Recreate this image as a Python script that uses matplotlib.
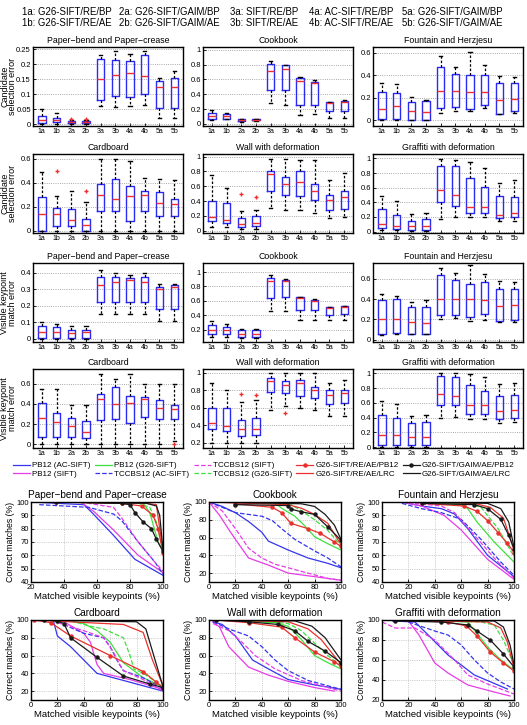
import numpy as np
import matplotlib
matplotlib.use("Agg")
import matplotlib.pyplot as plt
from matplotlib.lines import Line2D

plt.rcParams['font.family'] = ['Liberation Sans', 'DejaVu Sans']

W, H = 527, 725

# ---------------- box plot data: rows are whislo, q1, median, q3, whishi ----------------
box_labels = ["1a", "1b", "2a", "2b", "3a", "3b", "4a", "4b", "5a", "5b"]

paper_cand = [
    [0.000, 0.000, 0.000, 0.000, 0.062, 0.058, 0.060, 0.065, 0.020, 0.020],
    [0.005, 0.006, 0.003, 0.003, 0.081, 0.093, 0.090, 0.100, 0.055, 0.053],
    [0.015, 0.014, 0.007, 0.007, 0.152, 0.165, 0.170, 0.160, 0.123, 0.125],
    [0.027, 0.022, 0.010, 0.010, 0.217, 0.213, 0.210, 0.232, 0.143, 0.153],
    [0.050, 0.038, 0.014, 0.014, 0.230, 0.245, 0.235, 0.243, 0.155, 0.178],
]
paper_cand_fliers = [[], [], [0.017], [0.017], [], [], [], [], [], []]

cook_cand = [
    [0.05, 0.06, 0.03, 0.035, 0.28, 0.26, 0.12, 0.135, 0.08, 0.08],
    [0.07, 0.07, 0.04, 0.045, 0.46, 0.46, 0.26, 0.26, 0.17, 0.17],
    [0.11, 0.10, 0.05, 0.055, 0.72, 0.74, 0.585, 0.55, 0.28, 0.30],
    [0.15, 0.13, 0.06, 0.065, 0.81, 0.79, 0.62, 0.56, 0.29, 0.31],
    [0.19, 0.14, 0.065, 0.07, 0.855, 0.80, 0.63, 0.59, 0.29, 0.32],
]
cook_cand_fliers = [[] for _ in range(10)]

fount_cand = [
    [0.00, 0.00, 0.00, 0.00, 0.065, 0.08, 0.08, 0.11, 0.06, 0.065],
    [0.01, 0.01, 0.005, 0.005, 0.11, 0.12, 0.10, 0.14, 0.06, 0.08],
    [0.10, 0.13, 0.08, 0.07, 0.26, 0.26, 0.25, 0.25, 0.18, 0.19],
    [0.25, 0.24, 0.16, 0.17, 0.47, 0.41, 0.40, 0.40, 0.33, 0.33],
    [0.33, 0.32, 0.21, 0.18, 0.57, 0.47, 0.61, 0.49, 0.39, 0.38],
]
fount_cand_fliers = [[] for _ in range(10)]

card_cand = [
    [0.00, 0.00, 0.00, 0.00, 0.00, 0.00, 0.00, 0.00, 0.00, 0.00],
    [0.00, 0.04, 0.04, 0.00, 0.16, 0.16, 0.08, 0.16, 0.12, 0.12],
    [0.14, 0.14, 0.09, 0.05, 0.30, 0.265, 0.29, 0.30, 0.23, 0.22],
    [0.28, 0.19, 0.18, 0.10, 0.39, 0.43, 0.37, 0.33, 0.32, 0.26],
    [0.49, 0.29, 0.33, 0.24, 0.60, 0.60, 0.58, 0.44, 0.43, 0.42],
]
card_cand_fliers = [[], [0.50], [], [0.33], [], [], [], [], [], []]

wall_cand = [
    [0.05, 0.05, 0.03, 0.03, 0.31, 0.28, 0.28, 0.24, 0.17, 0.18],
    [0.13, 0.10, 0.05, 0.06, 0.53, 0.48, 0.47, 0.41, 0.28, 0.30],
    [0.19, 0.15, 0.094, 0.11, 0.77, 0.63, 0.655, 0.54, 0.42, 0.45],
    [0.40, 0.38, 0.17, 0.20, 0.81, 0.73, 0.81, 0.63, 0.48, 0.53],
    [0.75, 0.57, 0.26, 0.28, 0.97, 0.97, 0.955, 0.955, 0.69, 0.78],
]
wall_cand_fliers = [[], [], [0.50], [0.46], [], [], [], [], [], []]

graf_cand = [
    [0.02, 0.02, 0.01, 0.01, 0.17, 0.195, 0.195, 0.195, 0.14, 0.14],
    [0.045, 0.035, 0.02, 0.025, 0.40, 0.355, 0.26, 0.26, 0.19, 0.195],
    [0.10, 0.08, 0.07, 0.07, 0.57, 0.50, 0.34, 0.34, 0.23, 0.25],
    [0.31, 0.23, 0.145, 0.17, 0.89, 0.89, 0.73, 0.61, 0.48, 0.47],
    [0.48, 0.42, 0.24, 0.26, 0.99, 0.98, 0.955, 0.87, 0.66, 0.70],
]
graf_cand_fliers = [[] for _ in range(10)]

paper_vis = [
    [0.000, 0.000, 0.000, 0.000, 0.15, 0.15, 0.15, 0.15, 0.105, 0.105],
    [0.005, 0.005, 0.005, 0.005, 0.22, 0.225, 0.22, 0.225, 0.18, 0.18],
    [0.040, 0.040, 0.035, 0.040, 0.325, 0.345, 0.355, 0.345, 0.305, 0.315],
    [0.075, 0.070, 0.055, 0.055, 0.375, 0.375, 0.37, 0.375, 0.315, 0.325],
    [0.100, 0.090, 0.075, 0.075, 0.42, 0.40, 0.385, 0.40, 0.335, 0.335],
]
paper_vis_fliers = [[] for _ in range(10)]

cook_vis = [
    [0.10, 0.10, 0.09, 0.09, 0.46, 0.46, 0.34, 0.34, 0.33, 0.33],
    [0.135, 0.135, 0.105, 0.105, 0.645, 0.65, 0.48, 0.475, 0.41, 0.42],
    [0.19, 0.19, 0.135, 0.145, 0.87, 0.87, 0.645, 0.605, 0.505, 0.52],
    [0.27, 0.235, 0.19, 0.19, 0.92, 0.895, 0.65, 0.615, 0.515, 0.525],
    [0.315, 0.28, 0.21, 0.21, 0.955, 0.91, 0.66, 0.63, 0.52, 0.53],
]
cook_vis_fliers = [[] for _ in range(10)]

fount_vis = [
    [0.05, 0.06, 0.06, 0.06, 0.20, 0.215, 0.185, 0.19, 0.175, 0.175],
    [0.06, 0.066, 0.06, 0.06, 0.24, 0.24, 0.225, 0.25, 0.18, 0.19],
    [0.205, 0.205, 0.175, 0.16, 0.40, 0.40, 0.405, 0.39, 0.33, 0.34],
    [0.39, 0.40, 0.32, 0.32, 0.64, 0.59, 0.555, 0.57, 0.505, 0.505],
    [0.45, 0.43, 0.37, 0.39, 0.71, 0.66, 0.735, 0.65, 0.58, 0.565],
]
fount_vis_fliers = [[] for _ in range(10)]

card_vis = [
    [0.00, 0.00, 0.00, 0.00, 0.00, 0.00, 0.00, 0.00, 0.00, 0.03],
    [0.07, 0.07, 0.07, 0.06, 0.24, 0.25, 0.21, 0.275, 0.25, 0.25],
    [0.26, 0.22, 0.18, 0.125, 0.445, 0.40, 0.41, 0.445, 0.355, 0.35],
    [0.41, 0.31, 0.265, 0.23, 0.50, 0.57, 0.48, 0.47, 0.435, 0.39],
    [0.55, 0.55, 0.39, 0.39, 0.70, 0.65, 0.70, 0.60, 0.60, 0.60],
]
card_vis_fliers = [[], [], [], [], [], [], [], [], [], [0.005]]

wall_vis = [
    [0.20, 0.20, 0.20, 0.20, 0.575, 0.62, 0.60, 0.575, 0.505, 0.505],
    [0.355, 0.33, 0.27, 0.29, 0.78, 0.77, 0.74, 0.715, 0.64, 0.65],
    [0.42, 0.385, 0.355, 0.36, 0.905, 0.867, 0.88, 0.81, 0.75, 0.765],
    [0.60, 0.60, 0.46, 0.48, 0.94, 0.905, 0.92, 0.84, 0.80, 0.80],
    [0.89, 0.80, 0.665, 0.685, 1.00, 1.00, 1.00, 1.00, 0.89, 0.92],
]
wall_vis_fliers = [[], [], [0.76], [0.75], [], [0.54], [], [], [], []]

graf_vis = [
    [0.00, 0.00, 0.00, 0.00, 0.39, 0.41, 0.38, 0.38, 0.325, 0.345],
    [0.03, 0.03, 0.03, 0.03, 0.575, 0.565, 0.455, 0.455, 0.38, 0.40],
    [0.17, 0.16, 0.14, 0.14, 0.72, 0.69, 0.565, 0.565, 0.49, 0.51],
    [0.43, 0.39, 0.325, 0.345, 0.96, 0.95, 0.84, 0.76, 0.69, 0.70],
    [0.62, 0.59, 0.42, 0.44, 1.00, 1.00, 0.99, 0.95, 0.85, 0.865],
]
graf_vis_fliers = [[] for _ in range(10)]

box_titles = ["Paper\u2212bend and Paper\u2212crease", "Cookbook", "Fountain and Herzjesu",
              "Cardboard", "Wall with deformation", "Graffiti with deformation"]

# ---------------- curve data: (matched visible keypoints %, correct matches %) ----------------
series = ["PB12 (AC-SIFT)", "PB12 (SIFT)", "PB12 (G26-SIFT)",
          "TCCBS12 (AC-SIFT)", "TCCBS12 (SIFT)", "TCCBS12 (G26-SIFT)",
          "G26-SIFT/RE/AE/PB12", "G26-SIFT/RE/AE/LRC",
          "G26-SIFT/GAIM/AE/PB12", "G26-SIFT/GAIM/AE/LRC"]

paper_curves = {
    "PB12 (AC-SIFT)": ([20, 52, 57, 70, 83, 100], [100, 98, 92, 75, 57, 45]),
    "PB12 (SIFT)": ([50, 58, 70, 85, 100], [100, 93, 79, 60, 47]),
    "PB12 (G26-SIFT)": ([30, 88, 92, 97, 100], [100, 99, 92, 70, 63]),
    "TCCBS12 (AC-SIFT)": ([25, 40, 55, 70, 75, 85, 95, 100], [98, 97, 96, 91, 86, 70, 55, 46]),
    "TCCBS12 (SIFT)": ([50, 60, 70, 75, 85, 95, 100], [100, 98, 96, 88, 70, 55, 48]),
    "TCCBS12 (G26-SIFT)": ([40, 85, 92, 96, 100], [100, 99, 96, 85, 64]),
    "G26-SIFT/RE/AE/PB12": ([35, 75, 87, 94, 97, 100], [100, 99, 97, 90, 80, 62]),
    "G26-SIFT/RE/AE/LRC": ([40, 90, 96, 98, 100], [100, 99, 98, 80, 63]),
    "G26-SIFT/GAIM/AE/PB12": ([35, 75, 80, 83, 88, 93, 96, 100], [100, 99, 98, 92, 85, 80, 72, 63]),
    "G26-SIFT/GAIM/AE/LRC": ([35, 90, 96, 98, 100], [100, 99, 97, 90, 64]),
}
cook_curves = {
    "PB12 (AC-SIFT)": ([0, 10, 20, 30, 40, 45, 60, 75, 90, 100], [100, 95, 88, 78, 66, 56, 46, 37, 31, 26]),
    "PB12 (SIFT)": ([0, 8, 15, 20, 30, 45, 60, 75, 90, 100], [100, 85, 69, 58, 37, 29, 20, 17, 14, 12]),
    "PB12 (G26-SIFT)": ([0, 50, 55, 65, 72, 80, 90, 100], [100, 99, 93, 84, 74, 61, 53, 46]),
    "TCCBS12 (AC-SIFT)": ([0, 10, 20, 30, 40, 48, 55, 65, 80, 90, 100], [100, 94, 88, 86, 84, 79, 70, 58, 45, 37, 27]),
    "TCCBS12 (SIFT)": ([0, 10, 20, 30, 40, 50, 70, 90, 100], [100, 90, 70, 48, 37, 30, 22, 14, 12]),
    "TCCBS12 (G26-SIFT)": ([0, 60, 70, 80, 90, 100], [100, 99, 90, 80, 68, 51]),
    "G26-SIFT/RE/AE/PB12": ([20, 48, 55, 62, 75, 84, 95, 100], [98, 94, 88, 76, 70, 65, 55, 50]),
    "G26-SIFT/RE/AE/LRC": ([0, 60, 70, 80, 90, 100], [100, 97, 93, 86, 76, 52]),
    "G26-SIFT/GAIM/AE/PB12": ([20, 60, 62, 70, 80, 90, 100], [97, 96, 92, 89, 86, 72, 57]),
    "G26-SIFT/GAIM/AE/LRC": ([0, 70, 80, 88, 95, 100], [100, 98, 95, 86, 74, 58]),
}
fount_curves = {
    "PB12 (AC-SIFT)": ([15, 30, 45, 55, 65, 80, 100], [100, 97, 95, 91, 80, 60, 44]),
    "PB12 (SIFT)": ([15, 30, 47, 60, 80, 100], [100, 97, 90, 79, 57, 42]),
    "PB12 (G26-SIFT)": ([30, 60, 65, 72, 85, 100], [100, 98, 95, 85, 70, 55]),
    "TCCBS12 (AC-SIFT)": ([15, 30, 45, 60, 75, 90, 100], [99, 95, 92, 87, 72, 55, 45]),
    "TCCBS12 (SIFT)": ([15, 45, 55, 70, 85, 100], [100, 97, 92, 75, 58, 43]),
    "TCCBS12 (G26-SIFT)": ([30, 65, 75, 88, 100], [100, 99, 96, 80, 59]),
    "G26-SIFT/RE/AE/PB12": ([30, 62, 72, 80, 88, 95, 100], [99, 97, 93, 86, 77, 69, 62]),
    "G26-SIFT/RE/AE/LRC": ([30, 70, 82, 92, 100], [100, 99, 96, 88, 64]),
    "G26-SIFT/GAIM/AE/PB12": ([30, 70, 80, 90, 96, 100], [99, 98, 95, 87, 75, 65]),
    "G26-SIFT/GAIM/AE/LRC": ([30, 80, 90, 96, 100], [100, 99, 95, 85, 66]),
}
card_curves = {
    "PB12 (AC-SIFT)": ([17, 20, 30, 40, 50, 75, 100], [99, 82, 70, 55, 40, 30, 20]),
    "PB12 (SIFT)": ([25, 40, 45, 50, 55, 75, 100], [98, 85, 75, 50, 40, 33, 22]),
    "PB12 (G26-SIFT)": ([30, 40, 50, 60, 70, 85, 100], [99, 96, 88, 75, 52, 35, 25]),
    "TCCBS12 (AC-SIFT)": ([20, 40, 55, 60, 65, 70, 85, 100], [98, 85, 80, 70, 55, 43, 35, 23]),
    "TCCBS12 (SIFT)": ([20, 40, 55, 62, 67, 70, 85, 100], [97, 88, 80, 65, 50, 43, 33, 20]),
    "TCCBS12 (G26-SIFT)": ([30, 45, 55, 70, 75, 78, 85, 100], [99, 93, 90, 80, 60, 45, 40, 25]),
    "G26-SIFT/RE/AE/PB12": ([2, 15, 30, 60, 85, 95, 100], [100, 97, 82, 60, 42, 30, 24]),
    "G26-SIFT/RE/AE/LRC": ([2, 70, 85, 92, 100], [100, 95, 86, 55, 26]),
    "G26-SIFT/GAIM/AE/PB12": ([10, 20, 25, 30, 50, 70, 90, 100], [100, 99, 96, 80, 58, 37, 28, 24]),
    "G26-SIFT/GAIM/AE/LRC": ([10, 80, 87, 93, 100], [100, 98, 90, 60, 25]),
}
wall_curves = {
    "PB12 (AC-SIFT)": ([3, 10, 20, 33, 45, 60, 80, 100], [98, 95, 82, 55, 45, 33, 27, 22]),
    "PB12 (SIFT)": ([3, 8, 15, 30, 45, 60, 80, 95], [98, 92, 70, 47, 38, 31, 24, 20]),
    "PB12 (G26-SIFT)": ([3, 50, 60, 70, 80, 90, 100], [100, 97, 93, 78, 60, 52, 45]),
    "TCCBS12 (AC-SIFT)": ([3, 15, 30, 40, 50, 60, 75, 90, 100], [98, 90, 82, 70, 55, 43, 32, 26, 22]),
    "TCCBS12 (SIFT)": ([3, 15, 25, 35, 50, 70, 90, 100], [96, 88, 75, 60, 45, 32, 24, 20]),
    "TCCBS12 (G26-SIFT)": ([3, 40, 60, 70, 80, 90, 100], [100, 99, 96, 88, 74, 60, 48]),
    "G26-SIFT/RE/AE/PB12": ([5, 30, 55, 65, 80, 95, 100], [100, 97, 92, 80, 64, 53, 48]),
    "G26-SIFT/RE/AE/LRC": ([5, 60, 75, 85, 100], [100, 98, 90, 78, 50]),
    "G26-SIFT/GAIM/AE/PB12": ([5, 30, 52, 65, 75, 88, 100], [100, 98, 95, 88, 76, 65, 52]),
    "G26-SIFT/GAIM/AE/LRC": ([5, 65, 78, 88, 100], [100, 99, 93, 80, 55]),
}
graf_curves = {
    "PB12 (AC-SIFT)": ([8, 25, 35, 50, 70, 95], [99, 98, 85, 65, 45, 31]),
    "PB12 (SIFT)": ([20, 28, 40, 50, 65, 85, 97], [99, 85, 57, 47, 35, 28, 24]),
    "PB12 (G26-SIFT)": ([30, 65, 70, 80, 90, 100], [100, 98, 90, 73, 60, 50]),
    "TCCBS12 (AC-SIFT)": ([20, 40, 50, 60, 70, 80, 90, 100], [98, 89, 85, 75, 60, 47, 38, 31]),
    "TCCBS12 (SIFT)": ([0, 10, 25, 40, 55, 65, 80, 100], [98, 92, 92, 80, 60, 45, 36, 26]),
    "TCCBS12 (G26-SIFT)": ([30, 75, 85, 92, 100], [100, 98, 95, 80, 55]),
    "G26-SIFT/RE/AE/PB12": ([10, 50, 64, 72, 82, 92, 100], [100, 98, 94, 84, 68, 57, 49]),
    "G26-SIFT/RE/AE/LRC": ([10, 80, 90, 95, 100], [100, 98, 92, 78, 52]),
    "G26-SIFT/GAIM/AE/PB12": ([10, 45, 65, 72, 82, 92, 100], [99, 98, 95, 89, 80, 66, 53]),
    "G26-SIFT/GAIM/AE/LRC": ([10, 85, 92, 97, 100], [100, 99, 93, 75, 55]),
}

header = [("1a: G26-SIFT/RE/BP", "1b: G26-SIFT/RE/AE"),
          ("2a: G26-SIFT/GAIM/BP", "2b: G26-SIFT/GAIM/AE"),
          ("3a: SIFT/RE/BP", "3b: SIFT/RE/AE"),
          ("4a: AC-SIFT/RE/BP", "4b: AC-SIFT/RE/AE"),
          ("5a: G26-SIFT/GAIM/BP", "5b: G26-SIFT/GAIM/AE")]

BLUE, MAG, GREEN, RED, BLACK = "#3535f0", "#e63ce6", "#3ee03e", "#e8302c", "#1a1a1a"
styles = {
    "PB12 (AC-SIFT)": dict(color=BLUE, ls="-"),
    "PB12 (SIFT)": dict(color=MAG, ls="-"),
    "PB12 (G26-SIFT)": dict(color=GREEN, ls="-"),
    "TCCBS12 (AC-SIFT)": dict(color=BLUE, ls="--"),
    "TCCBS12 (SIFT)": dict(color=MAG, ls="--"),
    "TCCBS12 (G26-SIFT)": dict(color=GREEN, ls="--"),
    "G26-SIFT/RE/AE/PB12": dict(color=RED, ls="-", marker="o", ms=2.2),
    "G26-SIFT/RE/AE/LRC": dict(color=RED, ls="-"),
    "G26-SIFT/GAIM/AE/PB12": dict(color=BLACK, ls="-", marker="o", ms=2.2),
    "G26-SIFT/GAIM/AE/LRC": dict(color=BLACK, ls="-"),
}


def add_ax(left, top, w, h):
    return fig.add_axes([left / W, 1 - (top + h) / H, w / W, h / H])


def draw_box(ax, data, fliers, title, ylim, yticks, yticklabels=None):
    stats = []
    for i in range(10):
        stats.append(dict(whislo=data[0][i], q1=data[1][i], med=data[2][i],
                          q3=data[3][i], whishi=data[4][i], fliers=fliers[i]))
    ax.bxp(stats, positions=range(1, 11), widths=0.5, capwidths=0.22,
           boxprops=dict(color="#2a2af5", lw=1.0),
           medianprops=dict(color="#f03030", lw=1.0),
           whiskerprops=dict(color="k", ls=(0, (2, 1.5)), lw=0.9),
           capprops=dict(color="k", lw=1.0),
           flierprops=dict(marker="+", markeredgecolor="#f03030", markersize=3, lw=0))
    ax.set_xlim(0.4, 10.6)
    ax.set_ylim(*ylim)
    ax.set_yticks(yticks)
    if yticklabels is not None:
        ax.set_yticklabels(yticklabels)
    ax.set_xticks(range(1, 11))
    ax.set_xticklabels(box_labels)
    ax.yaxis.grid(True, ls=":", color="0.55", lw=0.6)
    ax.set_axisbelow(True)
    ax.tick_params(direction="in", length=2, width=0.6, labelsize=5.5, pad=1.5)
    ax.tick_params(axis="x", labelsize=5, pad=1.5)
    for s in ax.spines.values():
        s.set_linewidth(1.0)
    ax.set_title(title, fontsize=6.3, pad=3)


def draw_curves(ax, curves, title, ylim, yticks, xlim, xticks):
    for name in series:
        xs, ys = curves[name]
        ax.plot(xs, ys, lw=0.9, label=name, **styles[name])
    ax.set_xlim(*xlim)
    ax.set_ylim(*ylim)
    ax.set_xticks(xticks)
    ax.set_yticks(yticks)
    ax.grid(True, ls=":", color="0.65", lw=0.5)
    ax.tick_params(direction="in", length=2, width=0.6, labelsize=5.5, pad=1.5)
    for s in ax.spines.values():
        s.set_linewidth(1.0)
    ax.set_title(title, fontsize=7.2, pad=3)
    ax.set_xlabel("Matched visible keypoints (%)", fontsize=6.8, labelpad=0.5)
    ax.set_ylabel("Correct matches (%)", fontsize=6.3, labelpad=1)


fig = plt.figure(figsize=(W / 100, H / 100), dpi=100)

# header legend text
hx = [22, 119, 230, 309, 402]
for x, (l1, l2) in zip(hx, header):
    fig.text(x / W, 1 - 12 / H, l1, fontsize=6.9, va="center", ha="left")
    fig.text(x / W, 1 - 23.5 / H, l2, fontsize=6.9, va="center", ha="left")

box_left = [33, 203, 373]
box_top = [47, 154, 263, 369]
bw, bh = 150, 79

panels = [
    (0, 0, paper_cand, paper_cand_fliers, (-0.006, 0.258), [0, 0.05, 0.1, 0.15, 0.2, 0.25],
     ["0", "0.05", "0.1", "0.15", "0.2", "0.25"]),
    (0, 1, cook_cand, cook_cand_fliers, (-0.03, 1.04), [0, 0.2, 0.4, 0.6, 0.8, 1],
     ["0", "0.2", "0.4", "0.6", "0.8", "1"]),
    (0, 2, fount_cand, fount_cand_fliers, (-0.05, 0.65), [0, 0.2, 0.4, 0.6],
     ["0", "0.2", "0.4", "0.6"]),
    (1, 0, card_cand, card_cand_fliers, (-0.02, 0.64), [0, 0.2, 0.4, 0.6],
     ["0", "0.2", "0.4", "0.6"]),
    (1, 1, wall_cand, wall_cand_fliers, (-0.03, 1.035), [0, 0.2, 0.4, 0.6, 0.8, 1],
     ["0", "0.2", "0.4", "0.6", "0.8", "1"]),
    (1, 2, graf_cand, graf_cand_fliers, (-0.02, 1.06), [0, 0.2, 0.4, 0.6, 0.8, 1],
     ["0", "0.2", "0.4", "0.6", "0.8", "1"]),
    (2, 0, paper_vis, paper_vis_fliers, (-0.02, 0.46), [0, 0.1, 0.2, 0.3, 0.4],
     ["0", "0.1", "0.2", "0.3", "0.4"]),
    (2, 1, cook_vis, cook_vis_fliers, (0.03, 1.125), [0.2, 0.4, 0.6, 0.8, 1],
     ["0.2", "0.4", "0.6", "0.8", "1"]),
    (2, 2, fount_vis, fount_vis_fliers, (-0.024, 0.758), [0, 0.2, 0.4, 0.6],
     ["0", "0.2", "0.4", "0.6"]),
    (3, 0, card_vis, card_vis_fliers, (-0.036, 0.745), [0, 0.2, 0.4, 0.6],
     ["0", "0.2", "0.4", "0.6"]),
    (3, 1, wall_vis, wall_vis_fliers, (0.137, 1.046), [0.2, 0.4, 0.6, 0.8, 1],
     ["0.2", "0.4", "0.6", "0.8", "1"]),
    (3, 2, graf_vis, graf_vis_fliers, (-0.01, 1.058), [0, 0.2, 0.4, 0.6, 0.8, 1],
     ["0", "0.2", "0.4", "0.6", "0.8", "1"]),
]
for r, c, data, fl, ylim, yt, ytl in panels:
    ax = add_ax(box_left[c], box_top[r], bw, bh)
    draw_box(ax, data, fl, box_titles[(r % 2) * 3 + c], ylim, yt, ytl)

row_labels = ["Candidate\nselection error", "Candidate\nselection error",
              "Visible keypoint\nmatch error", "Visible keypoint\nmatch error"]
for r, lab in enumerate(row_labels):
    fig.text(8.7 / W, 1 - (box_top[r] + bh / 2) / H, lab, rotation=90, fontsize=6.5,
             ha="center", va="center", linespacing=0.85)

# curve panels
line_left = [31, 209, 382]
line_top = [502, 620]
lw_, lh_ = 132, 80
curve_panels = [
    (0, 0, paper_curves, (40, 100), range(40, 101, 10), (20, 100), range(20, 101, 20)),
    (0, 1, cook_curves, (10, 100), range(20, 101, 20), (0, 100), range(0, 101, 20)),
    (0, 2, fount_curves, (40, 100), range(40, 101, 10), (0, 100), range(0, 101, 20)),
    (1, 0, card_curves, (10, 100), range(20, 101, 20), (0, 100), range(0, 101, 20)),
    (1, 1, wall_curves, (10, 100), range(20, 101, 20), (0, 100), range(0, 101, 20)),
    (1, 2, graf_curves, (20, 100), range(20, 101, 20), (0, 100), range(0, 101, 20)),
]
for r, c, curves, ylim, yt, xlim, xt in curve_panels:
    ax = add_ax(line_left[c], line_top[r], lw_, lh_)
    draw_curves(ax, curves, box_titles[r * 3 + c], ylim, yt, xlim, xt)

handles = [Line2D([], [], lw=0.9, **styles[n]) for n in series]
fig.legend(handles, series, loc="center", bbox_to_anchor=(264 / W, 1 - 470 / H), ncol=5,
           frameon=False, fontsize=5.8, handlelength=2.1, columnspacing=0.55,
           handletextpad=0.25, labelspacing=0.15, borderpad=0)

fig.savefig("out.png", dpi=100)
